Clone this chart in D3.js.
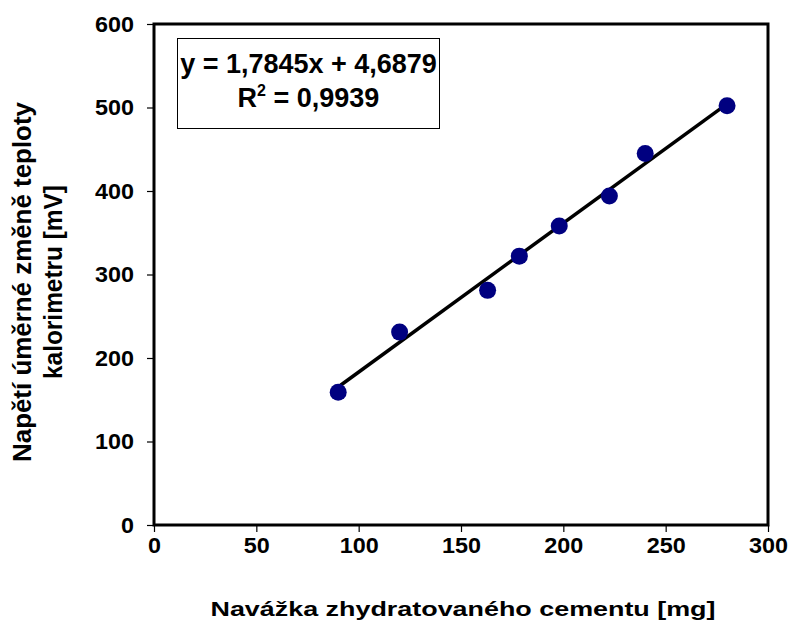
<!DOCTYPE html>
<html>
<head>
<meta charset="utf-8">
<script src="https://cdn.jsdelivr.net/npm/d3@7"></script>
<style>
  body { margin: 0; background: #fff; }
  text { font-family: "Liberation Sans", Arial, sans-serif; font-weight: bold; fill: #000; }
</style>
</head>
<body>
<svg id="chart" width="790" height="621"></svg>
<script>
var navazka = [90, 120, 163, 178.5, 198, 222.5, 240, 280];
var napeti  = [159, 231, 281, 322, 358, 394, 445, 502];
var xTicks = [0, 50, 100, 150, 200, 250, 300];
var yTicks = [0, 100, 200, 300, 400, 500, 600];
var slope = 1.7845, intercept = 4.6879;
var eqLine = "y = 1,7845x + 4,6879";

var svg = d3.select("svg#chart");
var mLeft = 154, mRight = 768, mTop = 24, mBottom = 525;

var x = d3.scaleLinear().domain([0, 300]).range([mLeft, mRight]);
var y = d3.scaleLinear().domain([0, 600]).range([mBottom, mTop]);

//Axes with outward ticks
svg.append("g")
    .attr("transform", "translate(0," + mBottom + ")")
    .call(d3.axisBottom(x).tickValues(xTicks).tickSize(7).tickPadding(5).tickSizeOuter(0));
svg.append("g")
    .attr("transform", "translate(" + mLeft + ",0)")
    .call(d3.axisLeft(y).tickValues(yTicks).tickSize(7).tickPadding(13).tickSizeOuter(0));
svg.selectAll(".domain").remove();
svg.selectAll(".tick line").attr("stroke", "#000").attr("stroke-width", 1.2);
//the labels in the picture are a bit wider than plain Arial
svg.selectAll(".tick text")
    .style("font-size", "22px")
    .style("font-family", "'Liberation Sans', Arial, sans-serif")
    .style("font-weight", "bold")
    .attr("lengthAdjust", "spacingAndGlyphs")
    .attr("textLength", function () { return 13 * this.textContent.length; });

//Plot frame
svg.append("rect")
    .attr("x", mLeft).attr("y", mTop)
    .attr("width", mRight - mLeft).attr("height", mBottom - mTop)
    .attr("fill", "none").attr("stroke", "#000").attr("stroke-width", 3);

//Trend line over the data range
var x0 = d3.min(navazka), x1 = d3.max(navazka);
svg.append("line")
    .attr("x1", x(x0)).attr("y1", y(slope * x0 + intercept))
    .attr("x2", x(x1)).attr("y2", y(slope * x1 + intercept))
    .attr("stroke", "#000").attr("stroke-width", 3.5);

//Points
svg.selectAll("circle.pt")
    .data(navazka.map(function (d, i) { return [d, napeti[i]]; }))
    .enter().append("circle")
      .attr("class", "pt")
      .attr("cx", function (d) { return x(d[0]); })
      .attr("cy", function (d) { return y(d[1]); })
      .attr("r", 8.5)
      .attr("fill", "#000080");

//Equation box
svg.append("rect")
    .attr("x", 177.5).attr("y", 38.5).attr("width", 262).attr("height", 90)
    .attr("fill", "#fff").attr("stroke", "#000").attr("stroke-width", 1);
svg.append("text")
    .attr("x", 308.5).attr("y", 73)
    .attr("text-anchor", "middle")
    .style("font-size", "27px")
    .text(eqLine);
var r2 = svg.append("text")
    .attr("x", 308.5).attr("y", 107)
    .attr("text-anchor", "middle")
    .style("font-size", "27px");
r2.append("tspan").text("R");
r2.append("tspan").attr("dy", -11).style("font-size", "16px").text("2");
r2.append("tspan").attr("dy", 11).text(" = 0,9939");

//Axis titles
svg.append("text")
    .attr("x", 463).attr("y", 616)
    .attr("text-anchor", "middle")
    .attr("textLength", 505).attr("lengthAdjust", "spacingAndGlyphs")
    .style("font-size", "20px")
    .text("Navážka zhydratovaného cementu [mg]");

var yTitle = svg.append("text")
    .attr("transform", "translate(0,282) rotate(-90)")
    .attr("text-anchor", "middle")
    .style("font-size", "26px");
yTitle.append("tspan").attr("x", 0).attr("y", 31)
    .attr("textLength", 360).attr("lengthAdjust", "spacingAndGlyphs")
    .text("Napětí úměrné změně teploty");
yTitle.append("tspan").attr("x", 0).attr("y", 62)
    .attr("textLength", 194).attr("lengthAdjust", "spacingAndGlyphs")
    .text("kalorimetru [mV]");
</script>
</body>
</html>
